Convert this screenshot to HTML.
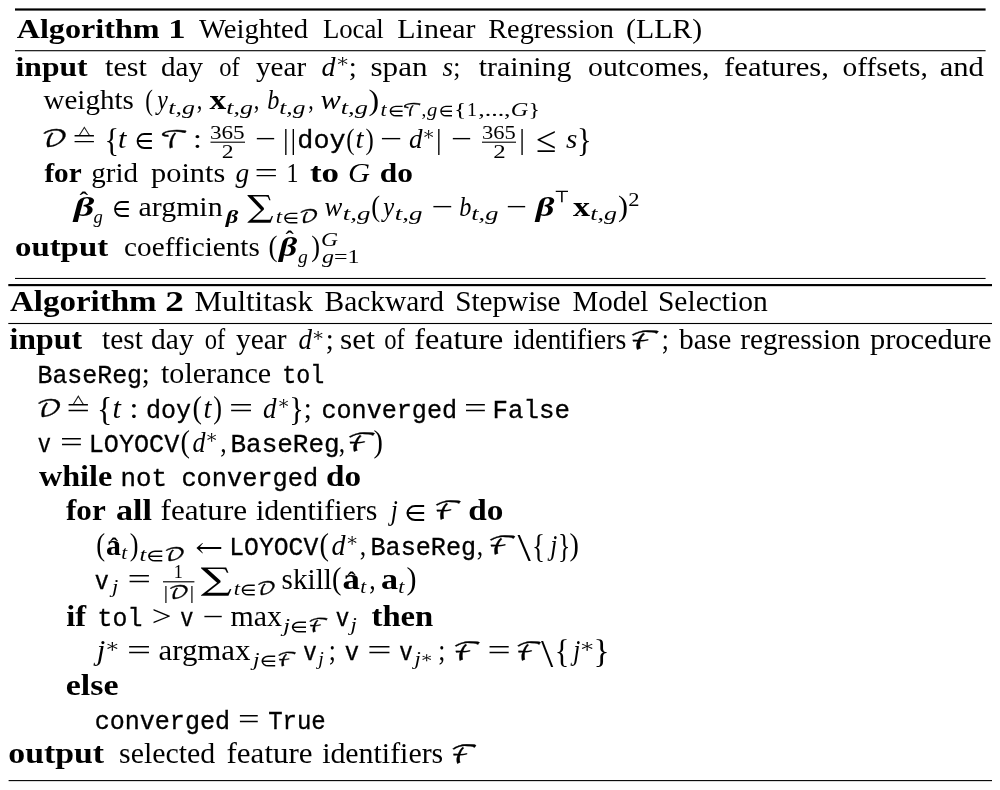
<!DOCTYPE html>
<html lang="en"><head><meta charset="utf-8"><title>Algorithms</title>
<style>
html,body{margin:0;padding:0;background:#fff;overflow:hidden}
svg{display:block;will-change:transform;filter:grayscale(1)}
text{fill:#000;white-space:pre}
.r{font-family:"Liberation Serif",serif;font-weight:normal;font-style:normal}
.b{font-family:"Liberation Serif",serif;font-weight:bold;font-style:normal}
.i{font-family:"Liberation Serif",serif;font-weight:normal;font-style:italic}
.bi{font-family:"Liberation Serif",serif;font-weight:bold;font-style:italic}
.m{font-family:"Liberation Mono",monospace;font-weight:normal;font-style:normal}
.c{stroke:#000;stroke-width:0.3px}
.m{stroke:#000;stroke-width:0.3px}
.M{font-family:"DejaVu Math TeX Gyre","DejaVu Serif","DejaVu Sans",serif;font-weight:normal;font-style:normal}
</style></head><body>
<svg width="1000" height="790" viewBox="0 0 1000 790">
<rect x="0" y="0" width="1000" height="790" fill="#fff"/>
<g fill="#000">
<rect x="15" y="8.4" width="970.6" height="2.2"/>
<rect x="15" y="50.15" width="970.6" height="1.1"/>
<rect x="15" y="277.93" width="970.6" height="1.05"/>
<rect x="8.3" y="284.03" width="983.7" height="2.15"/>
<rect x="8.3" y="322.95" width="983.7" height="1.1"/>
<rect x="8.6" y="780.05" width="983.4" height="1.1"/>
<rect x="210.5" y="141.65" width="34.5" height="1.1"/>
<rect x="482" y="141.65" width="34" height="1.1"/>
<rect x="163" y="581.22" width="31.4" height="1.15"/>
</g>
<g>
<text class="b" font-size="28.2" transform="matrix(1.1408 0 0 1 16.7 37.5)">Algorithm</text>
<text class="b" font-size="28.2" transform="matrix(1.2293 0 0 1 168.29 37.5)">1</text>
<text class="r" font-size="28.2" transform="matrix(1.0153 0 0 1 199 37.5)">Weighted</text>
<text class="r" font-size="28.2" transform="matrix(0.9494 0 0 1 322.88 37.5)">Local</text>
<text class="r" font-size="28.2" transform="matrix(1.0616 0 0 1 397.33 37.5)">Linear</text>
<text class="r" font-size="28.2" transform="matrix(1.0034 0 0 1 488.26 37.5)">Regression</text>
<text class="r" font-size="28.2" transform="matrix(1.0550 0 0 1 626.07 37.5)">(LLR)</text>
<text class="b" font-size="28.2" transform="matrix(1.1226 0 0 1 15.51 75.6)">input</text>
<text class="r" font-size="28.2" transform="matrix(1.0699 0 0 1 105 75.6)">test</text>
<text class="r" font-size="28.2" transform="matrix(1.0292 0 0 1 161.09 75.6)">day</text>
<text class="r" font-size="28.2" transform="matrix(0.8729 0 0 1 219.23 75.6)">of</text>
<text class="r" font-size="28.2" transform="matrix(1.0334 0 0 1 256 75.6)">year</text>
<text class="i" font-size="28.2" transform="matrix(0.9929 0 0 1 321.56 75.6)">d</text>
<text class="M" font-size="17.5" transform="matrix(0.9432 0 0 0.78 336.21 65.36)">∗</text>
<text class="r" font-size="28.2" transform="matrix(1.0213 0 0 1 348.65 75.6)">;</text>
<text class="r" font-size="28.2" transform="matrix(1.1022 0 0 1 370.53 75.6)">span</text>
<text class="i" font-size="28.2" transform="matrix(0.9670 0 0 1 442.5 75.6)">s</text>
<text class="r" font-size="28.2" transform="matrix(0.9078 0 0 1 453.3 75.6)">;</text>
<text class="r" font-size="28.2" transform="matrix(1.0576 0 0 1 478.7 75.6)">training</text>
<text class="r" font-size="28.2" transform="matrix(1.0553 0 0 1 588.07 75.6)">outcomes,</text>
<text class="r" font-size="28.2" transform="matrix(1.0884 0 0 1 724.12 75.6)">features,</text>
<text class="r" font-size="28.2" transform="matrix(1.0445 0 0 1 842.48 75.6)">offsets,</text>
<text class="r" font-size="28.2" transform="matrix(1.0845 0 0 1 939.64 75.6)">and</text>
<text class="r" font-size="28.2" transform="matrix(1.0301 0 0 1 43.5 109.4)">weights</text>
<text class="r" font-size="28.2" transform="matrix(0.8195 0 0 1.07 145.28 109.78)">(</text>
<text class="i" font-size="28.2" transform="matrix(0.8430 0 0 1 157.23 109.4)">y</text>
<text class="i" font-size="19.5" transform="matrix(1.3331 0 0 1 168.19 114.2)">t,g</text>
<text class="r" font-size="28.2" transform="matrix(0.7943 0 0 1 196.8 109.4)">,</text>
<text class="b" font-size="28.2" transform="matrix(1.1844 0 0 1 209.6 109.4)">x</text>
<text class="i" font-size="19.5" transform="matrix(1.3331 0 0 1 226.19 114.2)">t,g</text>
<text class="r" font-size="28.2" transform="matrix(0.7943 0 0 1 253.8 109.4)">,</text>
<text class="i" font-size="28.2" transform="matrix(0.8608 0 0 1 267.24 109.4)">b</text>
<text class="i" font-size="19.5" transform="matrix(1.3069 0 0 1 279.2 114.2)">t,g</text>
<text class="r" font-size="28.2" transform="matrix(0.7716 0 0 1 308.32 109.4)">,</text>
<text class="i" font-size="28.2" transform="matrix(1.0807 0 0 1 320.52 109.4)">w</text>
<text class="i" font-size="19.5" transform="matrix(1.3592 0 0 1 340.67 114.2)">t,g</text>
<text class="r" font-size="28.2" transform="matrix(1.1348 0 0 1.07 368.5 109.78)">)</text>
<text class="i" font-size="19.5" transform="matrix(1.1305 0 0 1 380.61 116.2)">t</text>
<text class="M" font-size="17.5" transform="matrix(1.1494 0 0 1 387.73 116.2)">∈</text>
<text class="M c" font-size="17.5" transform="matrix(1.0776 0 0 0.99 402.53 116.16)">𝒯</text>
<text class="r" font-size="19.5" transform="matrix(0.9846 0 0 1 421.4 116.2)">,</text>
<text class="i" font-size="19.5" transform="matrix(1.0587 0 0 1 427 116.2)">g</text>
<text class="M" font-size="17.5" transform="matrix(1.0449 0 0 1 438.57 116.2)">∈</text>
<text class="r" font-size="19.5" transform="matrix(1.3128 0 0 1 454 116.2)">{</text>
<text class="r" font-size="19.5" transform="matrix(1.0256 0 0 1 466.94 116.2)">1</text>
<text class="r" font-size="19.5" transform="matrix(1.3306 0 0 1 478.19 116.2)">,...,</text>
<text class="i" font-size="19.5" transform="matrix(1.2503 0 0 1 510.86 116.2)">G</text>
<text class="r" font-size="19.5" transform="matrix(1.2308 0 0 1 528.62 116.2)">}</text>
<text class="M c" font-size="25" transform="matrix(1.1546 0 0 0.95 41.14 147.49)">𝒟</text>
<text class="r" font-size="28.2" transform="matrix(1.4752 0 0 1 72.55 148.3)">=</text>
<text class="M c" font-size="17.5" transform="matrix(0.8411 0 0 0.67 77.78 133.63)">△</text>
<text class="r" font-size="28.2" transform="matrix(1.0780 0 0 1.17 104.62 150.65)">{</text>
<text class="i" font-size="28.2" transform="matrix(1.0717 0 0 1 118.06 148.3)">t</text>
<text class="M" font-size="25" transform="matrix(0.9448 0 0 1 134.65 148.3)">∈</text>
<text class="M c" font-size="25" transform="matrix(1.1200 0 0 0.96 159.81 147.85)">𝒯</text>
<text class="r" font-size="28.2" transform="matrix(1.1348 0 0 1 192.9 148.3)">:</text>
<text class="r" font-size="19.5" transform="matrix(1.1902 0 0 1 209.91 138.7)">365</text>
<text class="r" font-size="19.5" transform="matrix(1.2156 0 0 1 221.76 158.2)">2</text>
<text class="r" font-size="28.2" transform="matrix(1.3239 0 0 1 255.25 148.3)">−</text>
<text class="r" font-size="28.2" transform="matrix(1.0000 0 0 1.08 282.94 148.93)">|</text>
<text class="r" font-size="28.2" transform="matrix(1.0000 0 0 1.08 290.44 148.93)">|</text>
<text class="m" font-size="25" transform="matrix(1.0724 0 0 1 297.32 148.3)">doy</text>
<text class="r" font-size="28.2" transform="matrix(0.8826 0 0 1.07 346.22 148.68)">(</text>
<text class="i" font-size="28.2" transform="matrix(1.0213 0 0 1 355.5 148.3)">t</text>
<text class="r" font-size="28.2" transform="matrix(0.8811 0 0 1.07 365.62 148.68)">)</text>
<text class="r" font-size="28.2" transform="matrix(1.3995 0 0 1 380.15 148.3)">−</text>
<text class="i" font-size="28.2" transform="matrix(0.9574 0 0 1 409.08 148.3)">d</text>
<text class="M" font-size="17.5" transform="matrix(0.8662 0 0 0.78 422.82 138.06)">∗</text>
<text class="r" font-size="28.2" transform="matrix(1.0000 0 0 1.08 435.94 148.93)">|</text>
<text class="r" font-size="28.2" transform="matrix(1.3239 0 0 1 451.25 148.3)">−</text>
<text class="r" font-size="19.5" transform="matrix(1.1541 0 0 1 481.95 138.7)">365</text>
<text class="r" font-size="19.5" transform="matrix(1.2764 0 0 1 493.22 158.2)">2</text>
<text class="r" font-size="28.2" transform="matrix(1.0000 0 0 1.08 519.24 148.93)">|</text>
<text class="r" font-size="36" transform="matrix(1.0323 0 0 1.02 535.84 152.1)">≤</text>
<text class="i" font-size="28.2" transform="matrix(1.0361 0 0 1 566 148.3)">s</text>
<text class="r" font-size="28.2" transform="matrix(1.0780 0 0 1.17 577.12 150.65)">}</text>
<text class="b" font-size="28.2" transform="matrix(1.0355 0 0 1 44.4 181.5)">for</text>
<text class="r" font-size="28.2" transform="matrix(1.0282 0 0 1 91.29 181.5)">grid</text>
<text class="r" font-size="28.2" transform="matrix(1.0774 0 0 1 151.03 181.5)">points</text>
<text class="i" font-size="28.2" transform="matrix(0.9737 0 0 1 235.5 181.5)">g</text>
<text class="r" font-size="28.2" transform="matrix(1.4752 0 0 1 254.55 181.5)">=</text>
<text class="r" font-size="28.2" transform="matrix(0.8511 0 0 1 286.62 181.5)">1</text>
<text class="b" font-size="28.2" transform="matrix(1.2405 0 0 1 309.95 181.5)">to</text>
<text class="i" font-size="28.2" transform="matrix(1.0807 0 0 1 348.07 181.5)">G</text>
<text class="b" font-size="28.2" transform="matrix(1.1135 0 0 1 379.82 181.5)">do</text>
<text class="bi" font-size="28.2" transform="matrix(1.4265 0 0 1 73.76 215.6)">β</text>
<text class="b" font-size="28.2" transform="matrix(0.9186 0 0 0.85 79.5 207.75)">ˆ</text>
<text class="i" font-size="19.5" transform="matrix(0.9529 0 0 1 93.5 223)">g</text>
<text class="M" font-size="25" transform="matrix(0.9143 0 0 1 112.21 215.6)">∈</text>
<text class="r" font-size="28.2" transform="matrix(1.0588 0 0 1 138.57 215.6)">argmin</text>
<text class="bi" font-size="19.5" transform="matrix(1.2659 0 0 1 225.77 223)">β</text>
<text class="M" font-size="25" transform="matrix(1.2558 0 0 1.06 245.05 216.06)">∑</text>
<text class="i" font-size="19.5" transform="matrix(1.1711 0 0 1 275.79 222.8)"><tspan class="i">t</tspan><tspan class="M" font-size="17.55">∈</tspan><tspan class="M c" font-size="18.52">𝒟</tspan></text>
<text class="i" font-size="28.2" transform="matrix(0.9456 0 0 1 324.58 215.6)">w</text>
<text class="i" font-size="19.5" transform="matrix(1.3854 0 0 1 342.66 220.4)">t,g</text>
<text class="r" font-size="28.2" transform="matrix(0.9456 0 0 1.07 371.17 215.98)">(</text>
<text class="i" font-size="28.2" transform="matrix(0.8754 0 0 1 383.31 215.6)">y</text>
<text class="i" font-size="19.5" transform="matrix(1.3854 0 0 1 394.66 220.4)">t,g</text>
<text class="r" font-size="28.2" transform="matrix(1.3617 0 0 1 431.7 215.6)">−</text>
<text class="i" font-size="28.2" transform="matrix(0.8608 0 0 1 459.24 215.6)">b</text>
<text class="i" font-size="19.5" transform="matrix(1.3592 0 0 1 471.17 220.4)">t,g</text>
<text class="r" font-size="28.2" transform="matrix(1.3239 0 0 1 506.25 215.6)">−</text>
<text class="bi" font-size="28.2" transform="matrix(1.2969 0 0 1 535.64 215.6)">β</text>
<text class="M" font-size="17.5" transform="matrix(1.1150 0 0 0.95 553.98 202)">⊤</text>
<text class="b" font-size="28.2" transform="matrix(1.2057 0 0 1 573 215.6)">x</text>
<text class="i" font-size="19.5" transform="matrix(1.3331 0 0 1 590.19 220.4)">t,g</text>
<text class="r" font-size="28.2" transform="matrix(1.0680 0 0 1.07 618.06 215.98)">)</text>
<text class="r" font-size="19.5" transform="matrix(1.1548 0 0 1 628.3 206)">2</text>
<text class="b" font-size="28.2" transform="matrix(1.1657 0 0 1 14.97 255.5)">output</text>
<text class="r" font-size="28.2" transform="matrix(1.0364 0 0 1 124.09 255.5)">coefficients</text>
<text class="r" font-size="28.2" transform="matrix(0.9582 0 0 1.07 268.56 255.88)">(</text>
<text class="bi" font-size="28.2" transform="matrix(1.2644 0 0 1 279.11 255.5)">β</text>
<text class="b" font-size="28.2" transform="matrix(0.8862 0 0 0.81 285.6 246.98)">ˆ</text>
<text class="i" font-size="19.5" transform="matrix(1.0058 0 0 1 298 262.7)">g</text>
<text class="r" font-size="28.2" transform="matrix(0.9345 0 0 1.07 311.18 255.88)">)</text>
<text class="i" font-size="19.5" transform="matrix(1.2112 0 0 1 320.89 245.8)">G</text>
<text class="i" font-size="19.5" transform="matrix(1.2338 0 0 1 322 262.6)"><tspan class="i">g</tspan><tspan class="r">=1</tspan></text>
<text class="b" font-size="28.58" transform="matrix(1.1547 0 0 1 10 311)">Algorithm</text>
<text class="b" font-size="28.58" transform="matrix(1.3036 0 0 1 165.34 311)">2</text>
<text class="r" font-size="28.58" transform="matrix(1.0814 0 0 1 194.52 311)">Multitask</text>
<text class="r" font-size="28.58" transform="matrix(1.0311 0 0 1 324.54 311)">Backward</text>
<text class="r" font-size="28.58" transform="matrix(1.0220 0 0 1 455.17 311)">Stepwise</text>
<text class="r" font-size="28.58" transform="matrix(1.0159 0 0 1 572.55 311)">Model</text>
<text class="r" font-size="28.58" transform="matrix(1.0328 0 0 1 657.96 311)">Selection</text>
<text class="b" font-size="28.58" transform="matrix(1.1153 0 0 1 9.5 349)">input</text>
<text class="r" font-size="28.58" transform="matrix(1.0305 0 0 1 102 349)">test</text>
<text class="r" font-size="28.58" transform="matrix(1.0329 0 0 1 151.08 349)">day</text>
<text class="r" font-size="28.58" transform="matrix(0.8613 0 0 1 204.73 349)">of</text>
<text class="r" font-size="28.58" transform="matrix(1.0298 0 0 1 236 349)">year</text>
<text class="i" font-size="28.58" transform="matrix(0.9447 0 0 1 298.58 349)">d</text>
<text class="M" font-size="17.74" transform="matrix(0.8546 0 0 0.78 312.32 338.63)">∗</text>
<text class="r" font-size="28.58" transform="matrix(1.0077 0 0 1 325.65 349)">;</text>
<text class="r" font-size="28.58" transform="matrix(1.0984 0 0 1 340.02 349)">set</text>
<text class="r" font-size="28.58" transform="matrix(0.8613 0 0 1 384.23 349)">of</text>
<text class="r" font-size="28.58" transform="matrix(1.1246 0 0 1 414.2 349)">feature</text>
<text class="r" font-size="28.58" transform="matrix(0.9758 0 0 1 513.36 349)">identifiers</text>
<text class="M c" font-size="25.34" transform="matrix(1.3640 0 0 0.97 629.3 348.53)">ℱ</text>
<text class="r" font-size="28.58" transform="matrix(0.8957 0 0 1 661.8 349)">;</text>
<text class="r" font-size="28.58" transform="matrix(1.0308 0 0 1 679 349)">base</text>
<text class="r" font-size="28.58" transform="matrix(1.0212 0 0 1 740.34 349)">regression</text>
<text class="r" font-size="28.58" transform="matrix(1.0656 0 0 1 869.92 349)">procedure</text>
<text class="m" font-size="25.34" transform="matrix(0.9832 0 0 1 37.45 383.4)">BaseReg</text>
<text class="r" font-size="28.58" transform="matrix(1.0077 0 0 1 141.65 383.4)">;</text>
<text class="r" font-size="28.58" transform="matrix(1.0519 0 0 1 161 383.4)">tolerance</text>
<text class="m" font-size="25.34" transform="matrix(0.9223 0 0 1 282.17 383.4)">tol</text>
<text class="M c" font-size="25.34" transform="matrix(1.1238 0 0 0.93 35.98 416.89)">𝒟</text>
<text class="r" font-size="28.58" transform="matrix(1.4555 0 0 1 66.55 417.7)">=</text>
<text class="M c" font-size="17.74" transform="matrix(0.8222 0 0 0.67 71.85 402.83)">△</text>
<text class="r" font-size="28.58" transform="matrix(1.1196 0 0 1.17 97 420.08)">{</text>
<text class="i" font-size="28.58" transform="matrix(1.0574 0 0 1 112.56 417.7)">t</text>
<text class="r" font-size="28.58" transform="matrix(1.1196 0 0 1 129.5 417.7)">:</text>
<text class="m" font-size="25.34" transform="matrix(0.9891 0 0 1 145.93 417.7)">doy</text>
<text class="r" font-size="28.58" transform="matrix(0.9952 0 0 1.07 192.61 418.08)">(</text>
<text class="i" font-size="28.58" transform="matrix(0.9952 0 0 1 203.61 417.7)">t</text>
<text class="r" font-size="28.58" transform="matrix(0.9221 0 0 1.07 213.18 418.08)">)</text>
<text class="r" font-size="28.58" transform="matrix(1.4929 0 0 1 229 417.7)">=</text>
<text class="i" font-size="28.58" transform="matrix(0.9447 0 0 1 263.08 417.7)">d</text>
<text class="M" font-size="17.74" transform="matrix(0.8546 0 0 0.78 277.82 407.33)">∗</text>
<text class="r" font-size="28.58" transform="matrix(1.0637 0 0 1.17 289.13 420.08)">}</text>
<text class="r" font-size="28.58" transform="matrix(1.0077 0 0 1 303.65 417.7)">;</text>
<text class="m" font-size="25.34" transform="matrix(0.9916 0 0 1 321.43 417.7)">converged</text>
<text class="r" font-size="28.58" transform="matrix(1.4182 0 0 1 464.1 417.7)">=</text>
<text class="m" font-size="25.34" transform="matrix(1.0166 0 0 1 492.59 417.7)">False</text>
<text class="m" font-size="25.34" transform="matrix(0.8660 0 0 1 37.81 451.7)">v</text>
<text class="r" font-size="28.58" transform="matrix(1.4182 0 0 1 60.1 451.7)">=</text>
<text class="m" font-size="25.34" transform="matrix(0.9922 0 0 1 88.75 451.7)">LOYOCV</text>
<text class="r" font-size="28.58" transform="matrix(0.9952 0 0 1.07 180.61 452.08)">(</text>
<text class="i" font-size="28.58" transform="matrix(0.9097 0 0 1 192.59 451.7)">d</text>
<text class="M" font-size="17.74" transform="matrix(0.8546 0 0 0.78 205.82 441.33)">∗</text>
<text class="r" font-size="28.58" transform="matrix(0.8957 0 0 1 220.2 451.7)">,</text>
<text class="m" font-size="25.34" transform="matrix(1.0262 0 0 1 230.47 451.7)">BaseReg</text>
<text class="r" font-size="28.58" transform="matrix(0.8957 0 0 1 338.7 451.7)">,</text>
<text class="M c" font-size="25.34" transform="matrix(1.3135 0 0 0.97 346.4 451.23)">ℱ</text>
<text class="r" font-size="28.58" transform="matrix(0.9879 0 0 1.07 373.62 452.08)">)</text>
<text class="b" font-size="28.58" transform="matrix(1.1260 0 0 1 39 485.6)">while</text>
<text class="m" font-size="25.34" transform="matrix(1.0219 0 0 1 120.48 485.6)">not</text>
<text class="m" font-size="25.34" transform="matrix(0.9991 0 0 1 181.42 485.6)">converged</text>
<text class="b" font-size="28.58" transform="matrix(1.1620 0 0 1 325.96 485.6)">do</text>
<text class="b" font-size="28.58" transform="matrix(1.0878 0 0 1 66 519.8)">for</text>
<text class="b" font-size="28.58" transform="matrix(1.1926 0 0 1 115.93 519.8)">all</text>
<text class="r" font-size="28.58" transform="matrix(1.0927 0 0 1 160.51 519.8)">feature</text>
<text class="r" font-size="28.58" transform="matrix(1.0474 0 0 1 256.03 519.8)">identifiers</text>
<text class="i" font-size="28.58" transform="matrix(0.8864 0 0 1 390.77 519.8)">j</text>
<text class="M" font-size="25.34" transform="matrix(1.0825 0 0 1 404.36 519.8)">∈</text>
<text class="M c" font-size="25.34" transform="matrix(1.2630 0 0 0.97 433.5 519.33)">ℱ</text>
<text class="b" font-size="28.58" transform="matrix(1.1655 0 0 1 468.36 519.8)">do</text>
<text class="r" font-size="28.58" transform="matrix(0.9330 0 0 1.07 96.17 554.88)">(</text>
<text class="b" font-size="28.58" transform="matrix(1.0450 0 0 1 106.07 554.5)">a</text>
<text class="b" font-size="28.58" transform="matrix(0.8531 0 0 0.82 110 553.67)">ˆ</text>
<text class="i" font-size="19.76" transform="matrix(1.0795 0 0 1 121.33 559.3)">t</text>
<text class="r" font-size="28.58" transform="matrix(0.9221 0 0 1.07 129.68 554.88)">)</text>
<text class="i" font-size="19.76" transform="matrix(1.2382 0 0 1 139.54 560.9)"><tspan class="i">t</tspan><tspan class="M" font-size="17.79">∈</tspan><tspan class="M c" font-size="18.78">𝒟</tspan></text>
<text class="M" font-size="25.34" transform="matrix(1.1694 0 0 1 194.19 554.5)">←</text>
<text class="m" font-size="25.34" transform="matrix(0.9753 0 0 1 229.3 554.5)">LOYOCV</text>
<text class="r" font-size="28.58" transform="matrix(0.9952 0 0 1.07 319.61 554.88)">(</text>
<text class="i" font-size="28.58" transform="matrix(0.9797 0 0 1 331.56 554.5)">d</text>
<text class="M" font-size="17.74" transform="matrix(0.8546 0 0 0.78 346.32 544.13)">∗</text>
<text class="r" font-size="28.58" transform="matrix(0.8957 0 0 1 359.7 554.5)">,</text>
<text class="m" font-size="25.34" transform="matrix(0.9920 0 0 1 370.54 554.5)">BaseReg</text>
<text class="r" font-size="28.58" transform="matrix(0.8957 0 0 1 476.7 554.5)">,</text>
<text class="M c" font-size="25.34" transform="matrix(1.2882 0 0 0.97 487.45 554.03)">ℱ</text>
<text class="r" font-size="41.81" transform="matrix(1.1481 0 0 0.98 517.5 561.15)">\</text>
<text class="r" font-size="28.58" transform="matrix(0.9517 0 0 1.17 531.88 556.88)">{</text>
<text class="i" font-size="28.58" transform="matrix(0.8864 0 0 1 550.27 554.5)">j</text>
<text class="r" font-size="28.58" transform="matrix(0.8957 0 0 1.17 558 556.88)">}</text>
<text class="r" font-size="28.58" transform="matrix(0.9879 0 0 1.07 569.62 554.88)">)</text>
<text class="m" font-size="25.34" transform="matrix(0.9238 0 0 1 94.77 588.5)">v</text>
<text class="i" font-size="19.76" transform="matrix(1.1469 0 0 1 111.98 593.3)">j</text>
<text class="r" font-size="28.58" transform="matrix(1.4555 0 0 1 127.55 588.5)">=</text>
<text class="r" font-size="19.76" transform="matrix(0.9175 0 0 1 173.78 577.7)">1</text>
<text class="r" font-size="19.76" transform="matrix(1.2211 0 0 1 163.49 598.8)"><tspan class="r">|</tspan><tspan class="M c" font-size="18.78">𝒟</tspan><tspan class="r">|</tspan></text>
<text class="M" font-size="25.34" transform="matrix(1.4774 0 0 1.05 198.08 589.26)">∑</text>
<text class="i" font-size="19.76" transform="matrix(1.1412 0 0 1 233.8 595.1)"><tspan class="i">t</tspan><tspan class="M" font-size="17.79">∈</tspan><tspan class="M c" font-size="18.78">𝒟</tspan></text>
<text class="r" font-size="28.58" transform="matrix(1.0210 0 0 1 281.59 588.5)">skill</text>
<text class="r" font-size="28.58" transform="matrix(0.9952 0 0 1.07 332.11 588.88)">(</text>
<text class="b" font-size="28.58" transform="matrix(1.2167 0 0 1 342.61 588.5)">a</text>
<text class="b" font-size="28.58" transform="matrix(0.8531 0 0 0.82 347.5 587.67)">ˆ</text>
<text class="i" font-size="19.76" transform="matrix(1.0795 0 0 1 360.33 593.3)">t</text>
<text class="r" font-size="28.58" transform="matrix(0.8957 0 0 1 369.2 588.5)">,</text>
<text class="b" font-size="28.58" transform="matrix(1.1943 0 0 1 380.93 588.5)">a</text>
<text class="i" font-size="19.76" transform="matrix(1.1154 0 0 1 398.31 593.3)">t</text>
<text class="r" font-size="28.58" transform="matrix(1.0538 0 0 1.07 406.56 588.88)">)</text>
<text class="b" font-size="28.58" transform="matrix(1.1375 0 0 1 66.29 625.8)">if</text>
<text class="m" font-size="25.34" transform="matrix(0.9814 0 0 1 97.56 625.8)">tol</text>
<text class="r" font-size="28.58" transform="matrix(1.2280 0 0 1 151.85 625.8)">&gt;</text>
<text class="m" font-size="25.34" transform="matrix(0.8660 0 0 1 180.31 625.8)">v</text>
<text class="r" font-size="28.58" transform="matrix(1.3063 0 0 1 202.25 625.8)">−</text>
<text class="r" font-size="28.58" transform="matrix(1.0459 0 0 1 230.53 625.8)">max</text>
<text class="i" font-size="19.76" transform="matrix(1.2381 0 0 1 283.18 632)"><tspan class="i">j</tspan><tspan class="M" font-size="17.79">∈</tspan><tspan class="M c" font-size="18.78">ℱ</tspan></text>
<text class="m" font-size="25.34" transform="matrix(0.8877 0 0 1 335.8 625.8)">v</text>
<text class="i" font-size="19.76" transform="matrix(1.1469 0 0 1 350.48 630.6)">j</text>
<text class="b" font-size="28.58" transform="matrix(1.1449 0 0 1 371.49 625.8)">then</text>
<text class="i" font-size="28.58" transform="matrix(1.0730 0 0 1 96.85 660)">j</text>
<text class="M" font-size="17.74" transform="matrix(0.9971 0 0 0.78 105.62 649.63)">∗</text>
<text class="r" font-size="28.58" transform="matrix(1.4929 0 0 1 127 660)">=</text>
<text class="r" font-size="28.58" transform="matrix(1.0796 0 0 1 158.54 660)">argmax</text>
<text class="i" font-size="19.76" transform="matrix(1.1935 0 0 1 253.08 666.2)"><tspan class="i">j</tspan><tspan class="M" font-size="17.79">∈</tspan><tspan class="M c" font-size="18.78">ℱ</tspan></text>
<text class="m" font-size="25.34" transform="matrix(0.8877 0 0 1 303.3 660)">v</text>
<text class="i" font-size="19.76" transform="matrix(1.0120 0 0 1 318.19 664.8)">j</text>
<text class="r" font-size="28.58" transform="matrix(0.8957 0 0 1 328.8 660)">;</text>
<text class="m" font-size="25.34" transform="matrix(0.9382 0 0 1 344.76 660)">v</text>
<text class="r" font-size="28.58" transform="matrix(1.5078 0 0 1 367.28 660)">=</text>
<text class="m" font-size="25.34" transform="matrix(0.8877 0 0 1 399.3 660)">v</text>
<text class="i" font-size="19.76" transform="matrix(1.1469 0 0 1 414.48 664.8)">j</text>
<text class="M" font-size="13.3" transform="matrix(1.1395 0 0 0.82 420.82 660.79)">∗</text>
<text class="r" font-size="28.58" transform="matrix(0.8957 0 0 1 438.3 660)">;</text>
<text class="M c" font-size="25.34" transform="matrix(1.2630 0 0 0.97 452.5 659.53)">ℱ</text>
<text class="r" font-size="28.58" transform="matrix(1.4406 0 0 1 487.47 660)">=</text>
<text class="M c" font-size="25.34" transform="matrix(1.1872 0 0 0.97 515.15 659.53)">ℱ</text>
<text class="r" font-size="41.81" transform="matrix(1.0546 0 0 0.98 541.1 666.65)">\</text>
<text class="r" font-size="28.58" transform="matrix(1.0637 0 0 1.17 554.63 662.38)">{</text>
<text class="i" font-size="28.58" transform="matrix(0.8864 0 0 1 573.27 660)">j</text>
<text class="M" font-size="17.74" transform="matrix(1.0446 0 0 0.78 580.05 649.63)">∗</text>
<text class="r" font-size="28.58" transform="matrix(1.1756 0 0 1.17 593.38 662.38)">}</text>
<text class="b" font-size="28.58" transform="matrix(1.1885 0 0 1 65.74 694.8)">else</text>
<text class="m" font-size="25.34" transform="matrix(0.9901 0 0 1 94.63 728.5)">converged</text>
<text class="r" font-size="28.58" transform="matrix(1.3436 0 0 1 238 728.5)">=</text>
<text class="m" font-size="25.34" transform="matrix(0.9475 0 0 1 268.15 728.5)">True</text>
<text class="b" font-size="28.58" transform="matrix(1.1825 0 0 1 8.34 763.4)">output</text>
<text class="r" font-size="28.58" transform="matrix(1.0456 0 0 1 119.07 763.4)">selected</text>
<text class="r" font-size="28.58" transform="matrix(1.0863 0 0 1 226.51 763.4)">feature</text>
<text class="r" font-size="28.58" transform="matrix(1.0456 0 0 1 322.13 763.4)">identifiers</text>
<text class="M c" font-size="25.34" transform="matrix(1.2074 0 0 0.97 450.21 762.93)">ℱ</text>
</g>
</svg>
</body></html>
